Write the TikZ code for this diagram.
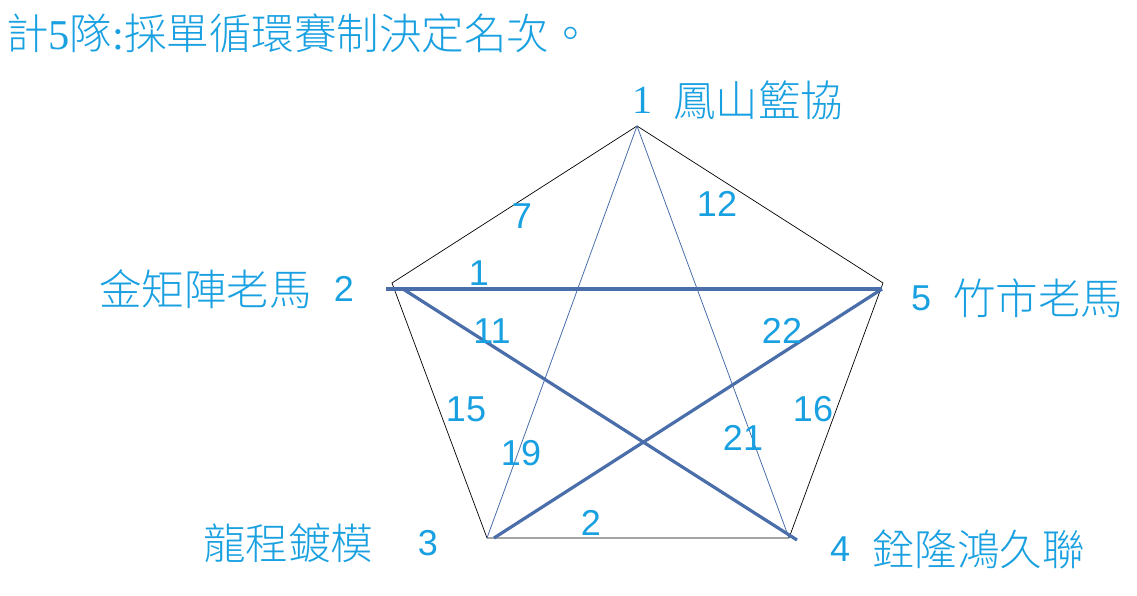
\documentclass[tikz,border=0pt]{standalone}
\usepackage{fontspec}
\setmainfont{Liberation Sans}
\newfontfamily\serifnum{Liberation Serif}
\newfontfamily\cjk{Noto Sans CJK TC Light}
\usepackage{xcolor}
\definecolor{labelblue}{HTML}{19A0E1}
\definecolor{lineblue}{HTML}{4A6EAA}

\begin{document}
\begin{tikzpicture}[
    x = 1pt,
    y = -1pt,
    inner sep = 0pt,
    txt/.style = {text=labelblue, font=\cjk\fontsize{42.5}{48}\selectfont},
    num/.style = {text=labelblue, font=\fontsize{36}{40}\selectfont},
    edge/.style = {black, line width=0.7pt},
    thin/.style = {lineblue, line width=0.8pt},
    thick/.style = {lineblue, line width=3.2pt}]
    \useasboundingbox (0,0) rectangle (1137,596);
    % VERTICES
    \coordinate (v1) at (637,126);
    \coordinate (v2) at (392,283);
    \coordinate (v3) at (487,538);
    \coordinate (v4) at (789,538);
    \coordinate (v5) at (883,283);
    % ends of the thick lines
    \coordinate (a2) at (386,289);
    \coordinate (b2) at (403,289);
    \coordinate (a3) at (494,538);
    \coordinate (a4) at (797,540);
    \coordinate (a5) at (882,289);

    % TITLE
    \node[txt, anchor=west] (title) at (6,33) {計{\serifnum 5}隊{\serifnum :}採單循環賽制決定名次。};

    % TEAMS
    % team 1
    \node[num, font=\serifnum\fontsize{40}{44}\selectfont] (n1) at (642,100) {1};
    \node[txt, anchor=west] (t1) at (673,100) {鳳山籃協};
    % team 2
    \node[num] (n2) at (344,289) {2};
    \node[txt, anchor=east] (t2) at (312,289) {金矩陣老馬};
    % team 3
    \node[num] (n3) at (428,543) {3};
    \node[txt, anchor=west] (t3) at (203,543) {龍程鍍模};
    % team 4
    \node[num] (n4) at (840,549) {4};
    \node[txt, anchor=west] (t4) at (872,549) {銓隆鴻久聯};
    % team 5
    \node[num] (n5) at (921,298) {5};
    \node[txt, anchor=west] (t5) at (953,298) {竹市老馬};

    % LINES
    \draw[edge] (v1)--(v2)--(v3)--(v4)--(v5)--cycle;
    \draw[thin] (v1)--(v3);
    \draw[thin] (v1)--(v4);
    \draw[thick] (a2)--(a5);
    \draw[thick] (b2)--(a4);
    \draw[thick] (a3)--(a5);

    % GAME NUMBERS
    \node[num] (g7) at (522,216) {7};
    \node[num] (g12) at (717,204) {12};
    \node[num] (g1) at (479,273) {1};
    \node[num] (g11) at (492,331) {11};
    \node[num] (g22) at (782,331) {22};
    \node[num] (g15) at (466,409) {15};
    \node[num] (g16) at (813,409) {16};
    \node[num] (g19) at (521,453) {19};
    \node[num] (g21) at (743,438) {21};
    \node[num] (g2) at (591,523) {2};
  \end{tikzpicture}
\end{document}
